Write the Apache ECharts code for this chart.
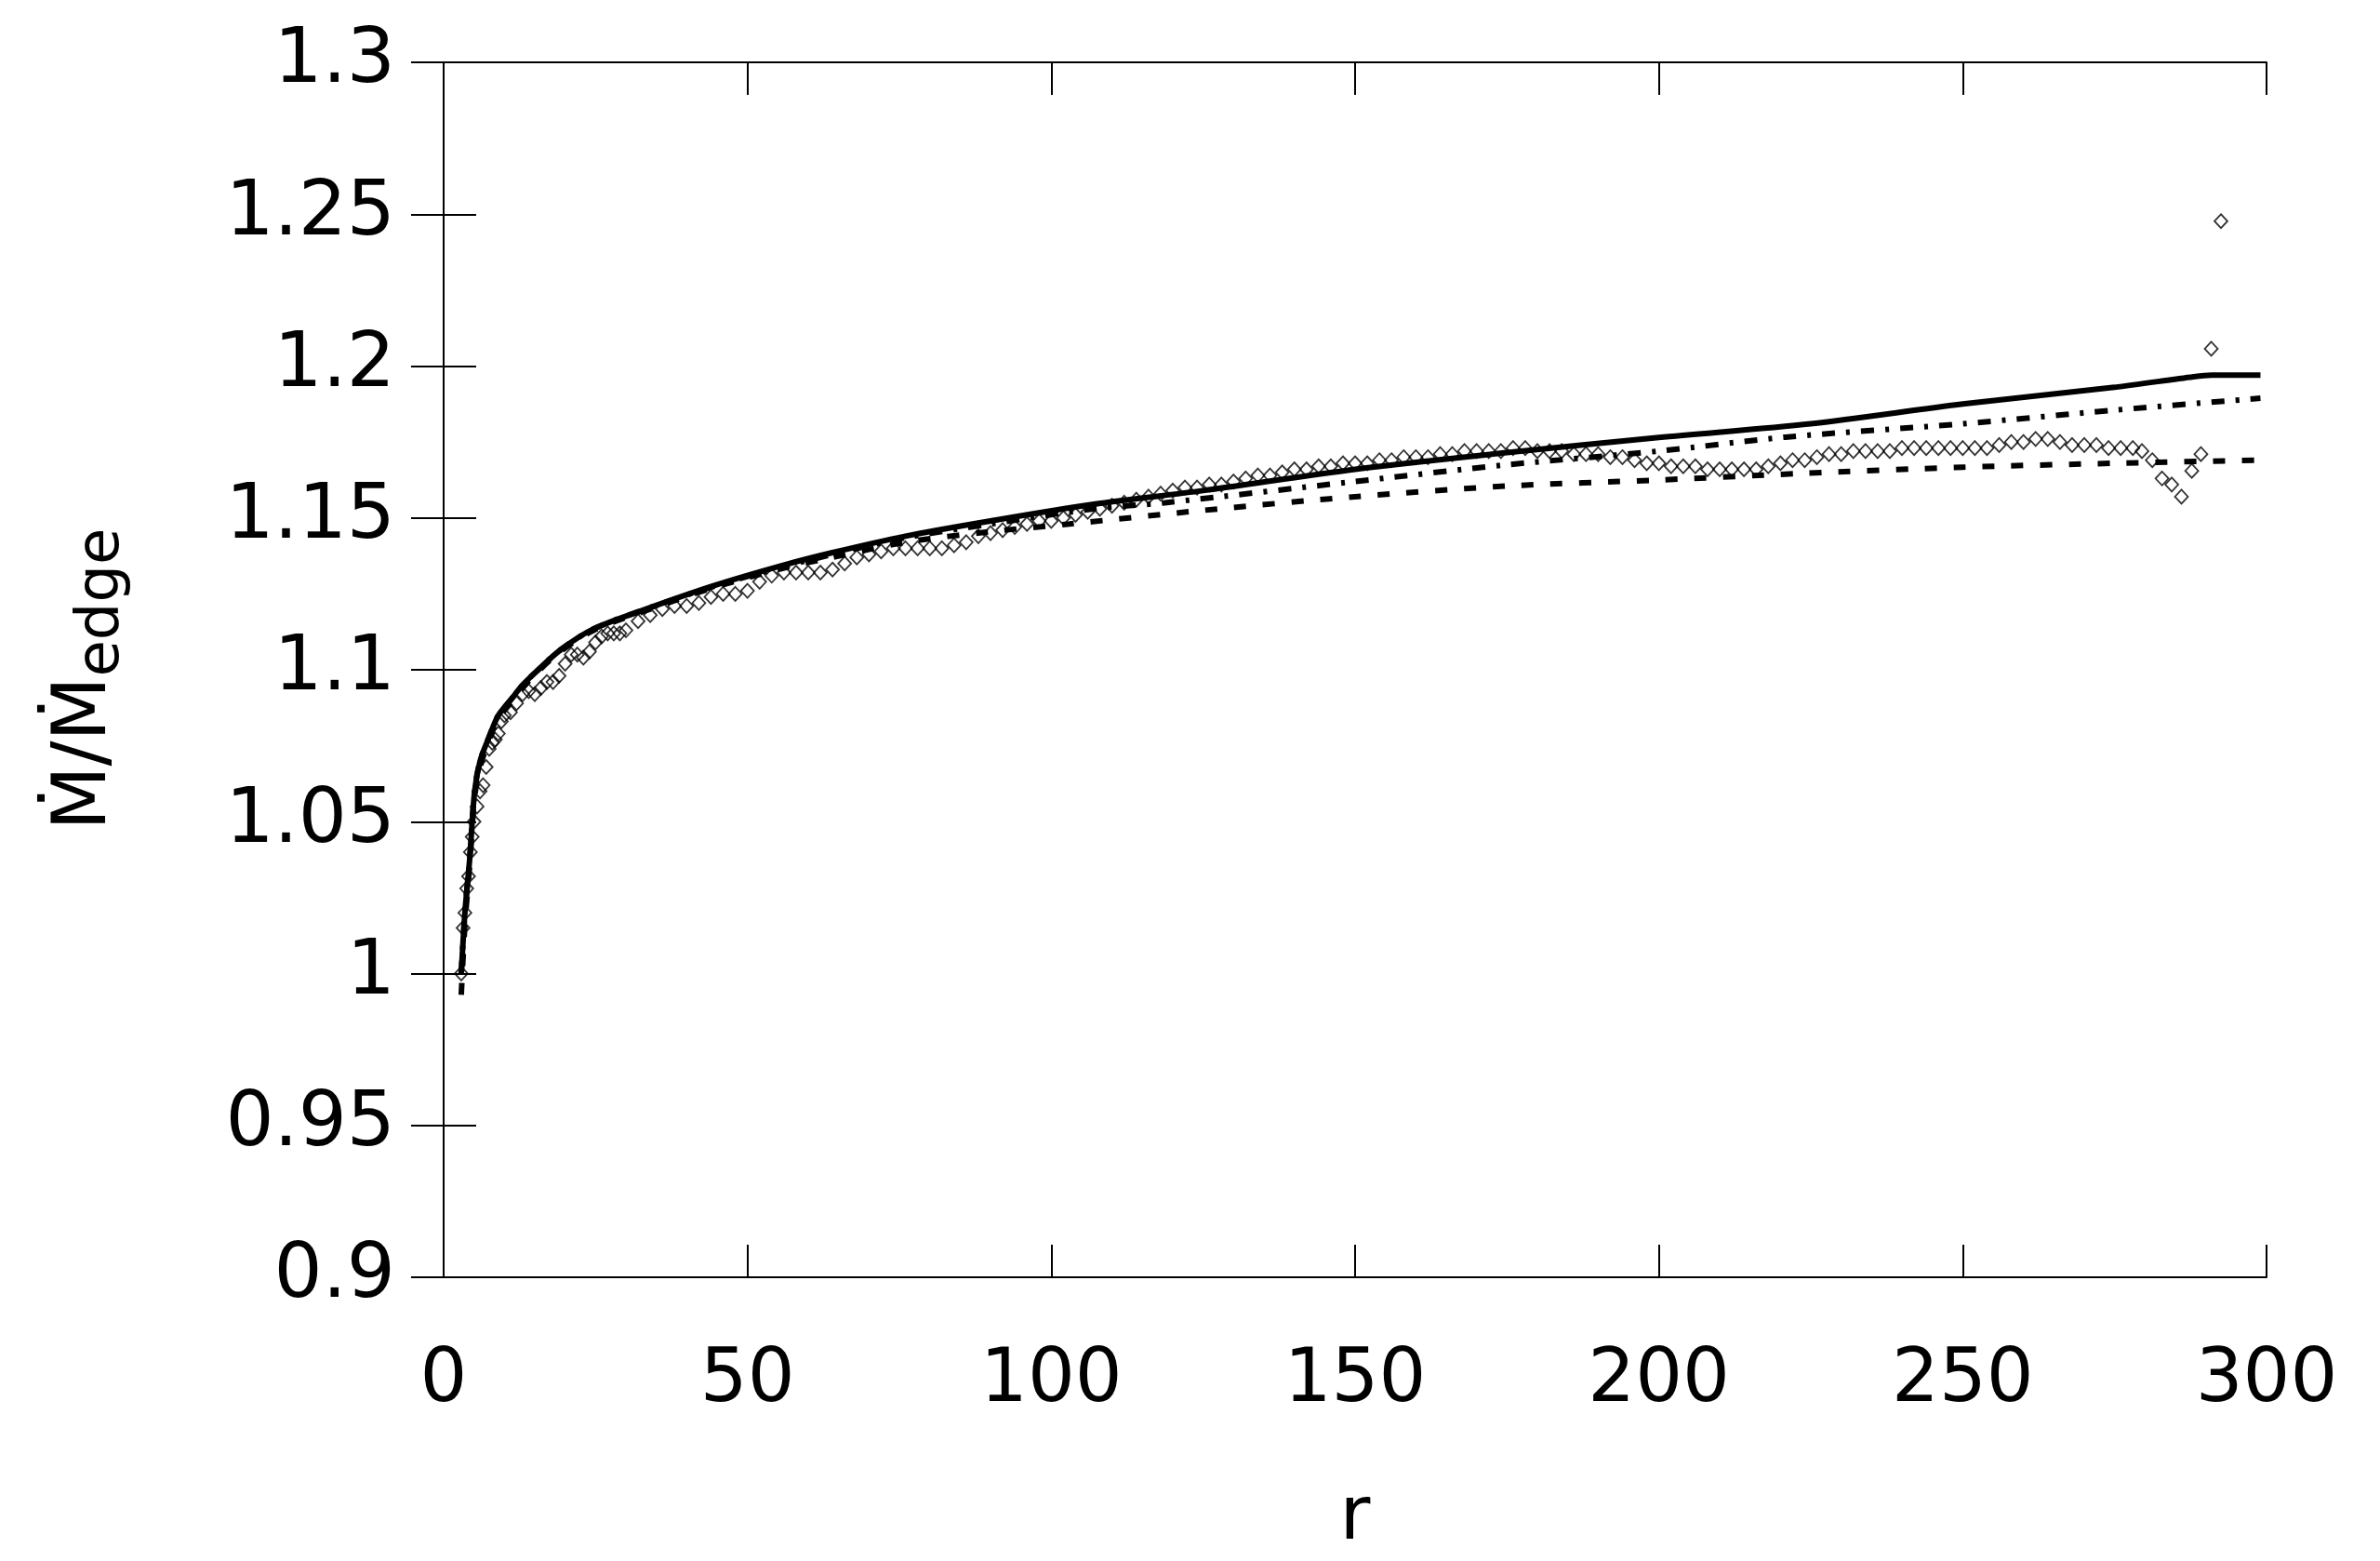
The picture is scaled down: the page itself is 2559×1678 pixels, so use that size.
<!DOCTYPE html>
<html>
<head>
<meta charset="utf-8">
<script src="https://cdn.jsdelivr.net/npm/echarts@6/dist/echarts.min.js"></script>
<style>html,body{margin:0;padding:0;background:#fff}#chart{width:2559px;height:1678px}</style>
</head>
<body>
<div id="chart"></div>
<script>
// solid curve
var rSolid = [2.9,3.5,4.3,5.1,6,7.5,9,11,13,15.3,19.2,24.7,32.6,44.3,56,64,76,90,107,125,150,175,200,225,250,275,288,291,299];
var vSolid = [1.0,1.02,1.038,1.06,1.07,1.078,1.085,1.09,1.095,1.0995,1.1065,1.1135,1.1195,1.1276,1.1345,1.1386,1.144,1.149,1.1545,1.159,1.166,1.1715,1.1765,1.181,1.1875,1.193,1.1965,1.197,1.197];
// dash-dot curve
var rDashDot = [2.9,3.5,4.3,5.1,6,7.5,9,11,13,15.3,19.2,24.7,32.6,44.3,56,64,76,90,107,118.7,150,175,200,220.8,250,275,299];
var vDashDot = [1.0,1.02,1.038,1.06,1.07,1.078,1.085,1.09,1.095,1.0995,1.1065,1.1135,1.1195,1.1274,1.134,1.138,1.1435,1.148,1.153,1.155,1.162,1.1675,1.172,1.1766,1.181,1.1855,1.1894];
// dashed curve
var rDashed = [2.9,3.5,4.3,5.1,6,7.5,9,11,13,15.3,19.2,24.7,32.6,44.3,56,64,76,90,103,125,150,175,200,223,250,275,299];
var vDashed = [0.993,1.016,1.036,1.058,1.068,1.077,1.084,1.089,1.094,1.099,1.106,1.113,1.119,1.127,1.1335,1.137,1.142,1.1455,1.148,1.1525,1.157,1.1605,1.1625,1.1646,1.1667,1.168,1.169];
// diamonds
var rDiamond = [2.9,3.2,3.5,3.8,4.1,4.4,4.7,5.0,5.5,6.0,6.5,7,7.5,8,8.5,9,9.5,10,
  11,12,13,14,15,16,17,18,19,20,21,22,23,24,25,26,27,28,29,30,
  32,34,36,38,40,42,44,46,48,50,52,54,56,58,60,62,64,66,68,70,72,74,76,78,80,82,84,86,88,90,
  92,94,96,98,100,102,104,106,108,110,112,114,116,118,120,122,124,126,128,130,132,134,136,138,140,
  142,144,146,148,150,152,154,156,158,160,162,164,166,168,170,172,174,176,178,180,182,184,186,188,190,
  192,194,196,198,200,202,204,206,208,210,212,214,216,218,220,222,224,226,228,230,232,234,236,238,240,
  242,244,246,248,250,252,254,256,258,260,262,264,266,268,270,272,274,276,278,279.5,281.2,282.8,284.4,286,287.7,289.2,290.9,292.5];
var vDiamond = [1.0,1.015,1.02,1.028,1.032,1.04,1.045,1.05,1.055,1.06,1.062,1.068,1.074,1.076,1.077,1.079,1.083,1.085,
  1.086,1.089,1.092,1.093,1.092,1.094,1.096,1.096,1.098,1.102,1.105,1.105,1.104,1.106,1.109,1.111,1.112,1.112,1.112,1.113,
  1.116,1.118,1.12,1.121,1.121,1.122,1.124,1.125,1.125,1.126,1.129,1.131,1.132,1.132,1.132,1.132,1.133,1.135,1.137,1.138,1.139,1.14,1.14,1.14,1.14,1.14,1.141,1.142,1.144,1.145,
  1.146,1.147,1.148,1.149,1.149,1.15,1.151,1.152,1.153,1.154,1.155,1.156,1.157,1.158,1.159,1.16,1.16,1.161,1.161,1.162,1.163,1.164,1.164,1.165,1.166,
  1.166,1.167,1.167,1.168,1.168,1.168,1.169,1.169,1.17,1.17,1.17,1.171,1.171,1.172,1.172,1.172,1.172,1.173,1.173,1.172,1.172,1.172,1.171,1.171,1.171,
  1.17,1.17,1.169,1.168,1.168,1.167,1.167,1.167,1.166,1.166,1.166,1.166,1.166,1.167,1.168,1.169,1.169,1.17,1.171,1.171,1.172,1.172,1.172,1.172,1.173,
  1.173,1.173,1.173,1.173,1.173,1.173,1.173,1.174,1.175,1.175,1.176,1.176,1.175,1.174,1.174,1.174,1.173,1.173,1.173,1.172,1.169,1.163,1.161,1.157,1.1655,1.171,1.2057,1.2477];

function pairs(xs, ys) {
  var out = [];
  for (var i = 0; i < xs.length; i++) out.push([xs[i], ys[i]]);
  return out;
}

var font = 'DejaVu Sans';
var tickLen = 35;
var axisLineStyle = {lineStyle: {color: '#000', width: 2}};

var myChart = echarts.init(document.getElementById('chart'));
var option = {
  backgroundColor: '#fff',
  animation: false,
  grid: {left: 477, top: 67, right: 122, bottom: 288},
  xAxis: [{
    type: 'value', min: 0, max: 300, interval: 50,
    axisLine: axisLineStyle,
    axisTick: {inside: true, length: tickLen, lineStyle: {color: '#000', width: 2}},
    axisLabel: {color: '#000', fontSize: 80, fontFamily: font, margin: 72},
    splitLine: {show: false},
    name: 'r', nameLocation: 'middle', nameGap: 220,
    nameTextStyle: {color: '#000', fontSize: 80, fontFamily: font}
  }, {
    type: 'value', min: 0, max: 300, interval: 50, position: 'top',
    axisLine: axisLineStyle,
    axisTick: {inside: true, length: tickLen, lineStyle: {color: '#000', width: 2}},
    axisLabel: {show: false}, splitLine: {show: false}
  }],
  yAxis: [{
    type: 'value', min: 0.9, max: 1.3, interval: 0.05,
    axisLine: axisLineStyle,
    axisTick: {inside: true, length: tickLen, lineStyle: {color: '#000', width: 2}},
    axisLabel: {color: '#000', fontSize: 82, fontFamily: font, margin: 52,
      formatter: function (v) { return String(parseFloat(v.toFixed(2))); }},
    splitLine: {show: false}
  }, {
    type: 'value', min: 0.9, max: 1.3, interval: 0.05, position: 'right',
    axisLine: axisLineStyle,
    axisTick: {inside: true, length: tickLen, lineStyle: {color: '#000', width: 2}},
    axisLabel: {show: false}, splitLine: {show: false}
  }],
  graphic: [{
    type: 'text', x: 92, y: 730, rotation: Math.PI / 2,
    style: {
      text: '{a|Ṁ/Ṁ}{b|edge}',
      align: 'center', verticalAlign: 'middle',
      rich: {
        a: {fontSize: 80, fontFamily: font, fill: '#000', lineHeight: 100, verticalAlign: 'middle'},
        b: {fontSize: 64, fontFamily: font, fill: '#000', lineHeight: 64, verticalAlign: 'bottom'}
      }
    }
  }],
  series: [{
    type: 'line', data: pairs(rSolid, vSolid), showSymbol: false, smooth: 0.3,
    lineStyle: {color: '#000', width: 6}
  }, {
    type: 'line', data: pairs(rDashDot, vDashDot), showSymbol: false, smooth: 0.3,
    lineStyle: {color: '#000', width: 6, type: [14, 12, 4, 12]}
  }, {
    type: 'line', data: pairs(rDashed, vDashed), showSymbol: false, smooth: 0.3,
    lineStyle: {color: '#000', width: 6, type: [13, 18]}
  }, {
    type: 'scatter', data: pairs(rDiamond, vDiamond), symbol: 'diamond', symbolSize: [14, 15],
    itemStyle: {color: 'rgba(255,255,255,0)', borderColor: '#000', borderWidth: 1.8}
  }]
};
myChart.setOption(option);
</script>
</body>
</html>
